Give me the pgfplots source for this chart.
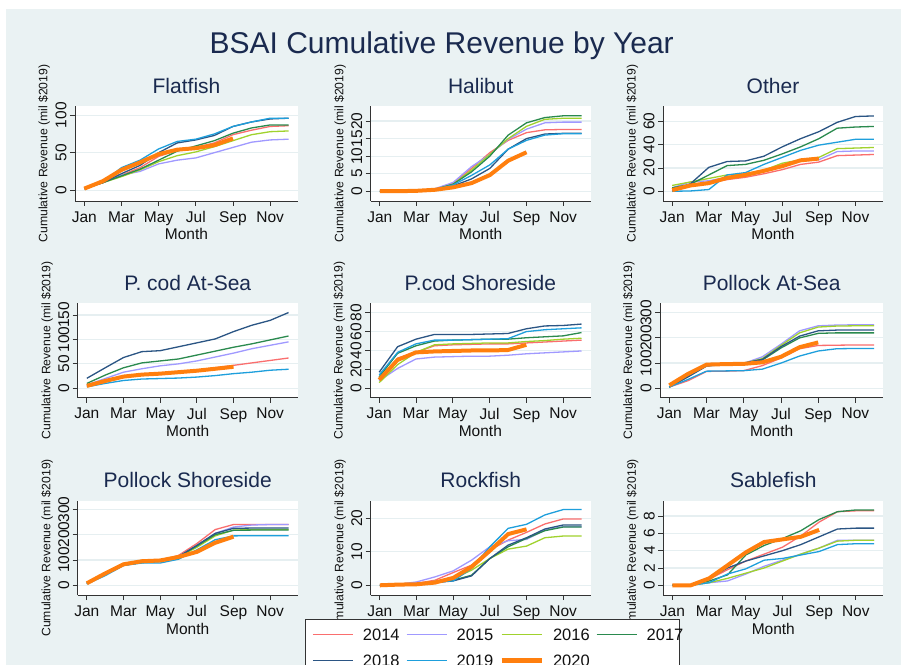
\documentclass[border=0pt]{standalone}
\usepackage{pgfplots}
\pgfplotsset{compat=1.18}
\usepackage{pgfplotstable}
\usepackage{fontspec}
\setmainfont{Liberation Sans}
\definecolor{bgc}{HTML}{EAF2F3}
\definecolor{gridc}{HTML}{E6EFF1}
\definecolor{axisc}{HTML}{333333}
\definecolor{titlec}{HTML}{1A2A4F}
\definecolor{textc}{HTML}{111111}
\definecolor{c14}{HTML}{FA6E6E}
\definecolor{c15}{HTML}{A099FF}
\definecolor{c16}{HTML}{A0D22D}
\definecolor{c17}{HTML}{2A8A4E}
\definecolor{c18}{HTML}{2B5584}
\definecolor{c19}{HTML}{1E9FDC}
\definecolor{c20}{HTML}{FF7F0E}

\pgfplotstableread{
m a14 a15 a16 a17 a18 a19 a20
1 2 2 2 2 2 2 2
2 10 10 10 10 10 11 12
3 20 20 18 19 22 30 27
4 30 25 27 28 33 40 37
5 45 35 38 40 50 55 48
6 53 40 46 52 63 65 54
7 57 43 51 59 67 68 56
8 63 50 58 66 73 75 60
9 74 57 66 76 85 85 69
10 80 64 74 83 91 91 nan
11 85 67 78 87 95 96 nan
12 86 68 79 87 96 96 nan
}\flatfish
\pgfplotstableread{
m a14 a15 a16 a17 a18 a19 a20
1 0 0 0 0 0 0 0
2 0 0 0 0 0 0 0
3 0.1 0.1 0.1 0.1 0.1 0.1 0.1
4 0.6 0.7 0.5 0.5 0.5 0.5 0.4
5 2.2 2.5 2 2 1.5 1.8 1.1
6 6.5 7 6 5.5 3.5 4.5 2.3
7 11 10.5 10.5 10 6.5 7.5 4.6
8 14.5 14.8 15 16 12 12 8.7
9 16.7 17.7 18.5 19.5 15 14.5 11.1
10 17.5 19.5 20.5 21 16.3 16 nan
11 17.6 19.7 20.8 21.5 16.5 16.4 nan
12 17.6 19.7 20.8 21.5 16.5 16.4 nan
}\halibut
\pgfplotstableread{
m a14 a15 a16 a17 a18 a19 a20
1 0 3 5 3 0 0 1
2 5 8 8 6 6.5 0.3 5
3 7 9 11 14 20.5 1.5 7
4 10 12 14 22 25.5 14 11.5
5 12 14 15 23 26 16 14
6 15 17 18 26.5 30 23 17.5
7 18.5 21 24 32 38 29 21.5
8 23 26 27 38 45 35 26.5
9 25 27 29 45 51 39.5 28
10 30.5 34 36.5 54 59 42 nan
11 31 34.5 37 55 64 44.5 nan
12 31.5 34.5 37.5 55.5 64.5 44.5 nan
}\other
\pgfplotstableread{
m a14 a15 a17 a18 a19 a20
1 5 7 10 20.5 3 5
2 15 20 27 42 10 15
3 24 33 42 63 16 24
4 28 40 52 75 19 28
5 31 46 56 77 20 30
6 33 50 60 85 21 33
7 37 56 68 93 23 36
8 42 64 76 101 26 40
9 47 72 84 116 30 44
10 52 81 91 129 33 nan
11 57 88 99 139 37 nan
12 62 95 107 155 39 nan
}\pcodsea
\pgfplotstableread{
m a14 a15 a16 a17 a18 a19 a20
1 9 8 6 12 17 14 9
2 32 21 25 37 44 38 30
3 38 31 38 45 52 47 38
4 45 33 46 50 57 51 39
5 46 33.5 47 51 57 51 39.5
6 46.5 34 47.5 51.5 57 51.5 40
7 47 34 48 52 57.5 52 40
8 47 35 48 52 58 52.5 40.5
9 48 36.5 49.5 53.5 63 60 46
10 49 37.5 50.5 54.5 66 62 nan
11 50 38.5 52 55.5 66.5 63 nan
12 51 39.5 53 59 68 64 nan
}\pcodshore
\pgfplotstableread{
m a14 a15 a16 a17 a18 a19 a20
1 5 5 5 5 5 5 12
2 30 50 50 47 45 35 57
3 67 95 93 90 88 68 94
4 68 97 96 96 95 69 96
5 70 99 99 98 100 70 97
6 90 125 118 112 115 76 103
7 120 175 170 160 165 100 125
8 157 228 220 200 207 128 163
9 170 248 243 218 228 148 182
10 171 251 247 220 231 157 nan
11 172 252 248 220 231 158 nan
12 172 252 248 220 231 158 nan
}\pollsea
\pgfplotstableread{
m a14 a15 a16 a17 a18 a19 a20
1 8 8 8 8 8 5 8
2 45 45 45 43 42 38 47
3 82 80 80 80 80 78 83
4 93 92 90 90 90 88 95
5 97 97 95 95 95 88 98
6 118 115 112 113 113 103 112
7 165 155 150 155 158 140 132
8 220 205 195 200 205 180 168
9 240 230 218 217 225 195 192
10 240 238 220 218 226 196 nan
11 240 240 220 218 226 196 nan
12 240 240 220 218 226 196 nan
}\pollshore
\pgfplotstableread{
m a14 a15 a16 a17 a18 a19 a20
1 0 0 0 0 0 0 0
2 0.2 0.3 0.1 0.1 0.1 0.2 0.2
3 0.6 1 0.4 0.3 0.3 0.5 0.3
4 1.5 2.5 1.2 0.8 0.8 1 0.8
5 3.8 4.3 2 1.5 1.3 1.3 2.2
6 6 7.5 4.5 3 2.8 5 5.5
7 10.5 11.5 8 8 8 11.5 10.3
8 13.5 13.3 10.8 11.5 12 17 15.3
9 15.8 13.7 11.7 14 14.2 18.2 16.7
10 18.3 16.5 14.2 16.3 16.8 21 nan
11 19.8 17.5 14.7 17.4 18 22.6 nan
12 19.8 17.5 14.7 17.4 18 22.6 nan
}\rockfish
\pgfplotstableread{
m a14 a15 a16 a17 a18 a19 a20
1 0 0 0 0 0 0 0
2 0 0 0 0 0 0 0
3 0.7 0.3 0.3 0.5 0.8 0.3 0.8
4 1.8 0.5 0.8 1.2 2 1.3 2.3
5 2.8 1.3 1.4 3.5 2.8 1.9 3.8
6 3.6 2.2 2 4.6 3.4 2.9 5
7 4.4 2.9 2.8 5.4 4 3.1 5.3
8 5.7 3.6 3.6 6.3 4.7 3.5 5.6
9 7.3 4.3 4.3 7.6 5.6 3.9 6.4
10 8.5 5.2 5.1 8.5 6.5 4.7 nan
11 8.6 5.2 5.2 8.7 6.6 4.8 nan
12 8.6 5.2 5.2 8.7 6.6 4.8 nan
}\sablefish

\pgfplotsset{
  s14/.style={color=c14, line width=1.3bp},
  s15/.style={color=c15, line width=1.3bp},
  s16/.style={color=c16, line width=1.3bp},
  s17/.style={color=c17, line width=1.3bp},
  s18/.style={color=c18, line width=1.3bp},
  s19/.style={color=c19, line width=1.3bp},
  s20/.style={color=c20, line width=4bp},
  bsai/.style={
    scale only axis,
    axis lines=left,
    axis line style={-, color=axisc, line width=0.8bp},
    tick align=outside,
    major tick length=5bp,
    tick style={color=axisc, line width=0.8bp},
    xmin=0.5, xmax=12.5,
    xtick={1,3,5,7,9,11},
    xticklabels={Jan,Mar,May,Jul,Sep,Nov},
    ymajorgrids,
    grid style={color=gridc, line width=1.2bp},
    axis background/.style={fill=white},
    xlabel={Month},
    ylabel={Cumulative Revenue (mil \$2019)},
    /pgf/number format/assume math mode=true,
    ticklabel style={font=\fontsize{15.5bp}{18bp}\selectfont, text=textc},
    xticklabel style={yshift=-2bp},
    yticklabel style={rotate=90, anchor=south},
    xlabel style={font=\fontsize{15.5bp}{18bp}\selectfont, text=textc,
      at={(axis description cs:0.5,0)}, anchor=base, yshift=-39bp},
    ylabel style={font=\fontsize{12.2bp}{14bp}\selectfont, text=textc,
      at={(axis description cs:-0.139,0.5)}, anchor=center},
    title style={font=\fontsize{21bp}{24bp}\selectfont, text=titlec,
      at={(axis description cs:0.5,1)}, anchor=base, yshift=7bp},
    every axis plot/.append style={line join=round, mark=none},
    legend image code/.code={\draw[##1] (0bp,0bp) -- (40bp,0bp);},
  }
}
\newcommand\plotyears[1]{%
  \addplot[s14] table[x=m,y=a14]{#1};
  \addplot[s15] table[x=m,y=a15]{#1};
  \addplot[s16] table[x=m,y=a16]{#1};
  \addplot[s17] table[x=m,y=a17]{#1};
  \addplot[s18] table[x=m,y=a18]{#1};
  \addplot[s19] table[x=m,y=a19]{#1};
  \addplot[s20] table[x=m,y=a20]{#1};
}

\begin{document}
\begin{tikzpicture}
\useasboundingbox (0bp,0bp) rectangle (901bp,665bp);
\clip (0bp,0bp) rectangle (901bp,665bp);
\fill[white] (0bp,0bp) rectangle (901bp,665bp);
\fill[bgc] (6bp,0bp) rectangle (901bp,656bp);
\node[anchor=base, font=\fontsize{30bp}{36bp}\selectfont, text=titlec, inner sep=0pt]
  at (441.7bp,611.7bp) {BSAI Cumulative Revenue by Year};

% Row 1
\begin{axis}[bsai, at={(75bp,464bp)}, anchor=south west, width=223bp, height=95bp,
  ymin=-14.5, ymax=112.3, ytick={0,50,100}, title={Flatfish}]
\plotyears{\flatfish}
\end{axis}
\begin{axis}[bsai, at={(370.7bp,464bp)}, anchor=south west, width=220bp, height=95bp,
  ymin=-2.8, ymax=24.3, ytick={0,5,10,15,20}, title={Halibut}]
\plotyears{\halibut}
\end{axis}
\begin{axis}[bsai, at={(663bp,464bp)}, anchor=south west, width=220bp, height=95bp,
  ymin=-8.3, ymax=73, ytick={0,20,40,60}, title={Other}]
\plotyears{\other}
\end{axis}

% Row 2
\begin{axis}[bsai, at={(77.7bp,267.3bp)}, anchor=south west, width=220bp, height=94.4bp,
  ymin=-19.2, ymax=173.9, ytick={0,50,100,150}, title={P. cod At-Sea}]
  \addplot[s14] table[x=m,y=a14]{\pcodsea};
  \addplot[s15] table[x=m,y=a15]{\pcodsea};
  \addplot[s17] table[x=m,y=a17]{\pcodsea};
  \addplot[s18] table[x=m,y=a18]{\pcodsea};
  \addplot[s19] table[x=m,y=a19]{\pcodsea};
  \addplot[s20] table[x=m,y=a20]{\pcodsea};
\end{axis}
\begin{axis}[bsai, at={(370bp,267.3bp)}, anchor=south west, width=220.7bp, height=94.4bp,
  ymin=-10, ymax=90, ytick={0,20,40,60,80}, title={P.cod Shoreside}]
\plotyears{\pcodshore}
\end{axis}
\begin{axis}[bsai, at={(660bp,267.3bp)}, anchor=south west, width=223.3bp, height=94.4bp,
  ymin=-37.3, ymax=337.3, ytick={0,100,200,300}, title={Pollock At-Sea}]
\plotyears{\pollsea}
\end{axis}

% Row 3
\begin{axis}[bsai, at={(77.7bp,70bp)}, anchor=south west, width=220bp, height=94.3bp,
  ymin=-38.3, ymax=334, ytick={0,100,200,300}, title={Pollock Shoreside}]
\plotyears{\pollshore}
\end{axis}
\begin{axis}[bsai, at={(370.7bp,70bp)}, anchor=south west, width=220bp, height=94.3bp,
  ymin=-2.9, ymax=25.25, ytick={0,10,20}, title={Rockfish}]
\plotyears{\rockfish}
\end{axis}
\begin{axis}[bsai, at={(663.3bp,70bp)}, anchor=south west, width=220bp, height=94.3bp,
  ymin=-1.12, ymax=9.77, ytick={0,2,4,6,8}, title={Sablefish},
  legend columns=4,
  legend cell align=left,
  legend style={at={(axis description cs:-1.6286,-0.2545)}, anchor=north west,
    draw=axisc, line width=1bp, fill=white,
    font=\fontsize{16.5bp}{19bp}\selectfont, text=textc,
    inner xsep=6.7bp, inner ysep=9.3bp, row sep=13.7bp,
    nodes={inner sep=0pt, text height=12bp, text depth=0pt, text width=26bp},
    /tikz/every odd column/.append style={column sep=9.4bp},
    /tikz/every even column/.append style={column sep=17bp}},
  ]
\plotyears{\sablefish}
\legend{2014,2015,2016,2017,2018,2019,2020}
\end{axis}
\end{tikzpicture}
\end{document}
